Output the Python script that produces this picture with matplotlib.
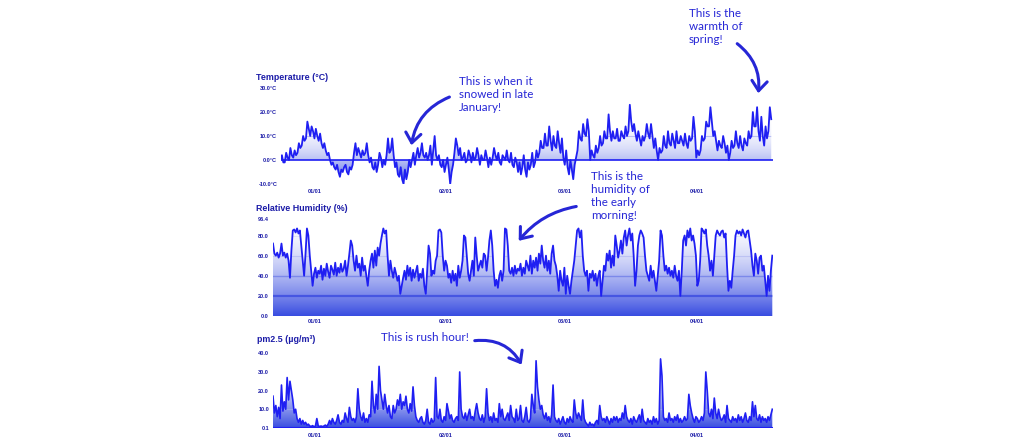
import numpy as np
import pandas as pd
import matplotlib
matplotlib.use("Agg")
import matplotlib.pyplot as plt
import matplotlib.dates as mdates
from matplotlib.path import Path
from matplotlib.patches import PathPatch, FancyArrowPatch
from matplotlib import font_manager

# ---------------- data (8-hourly samples) ----------------
temp_start = "2018-12-24 00:00"
hum_start = "2018-12-22 06:00"
x_end = "2019-04-19 02:00"
step = "8h"

temperature = [
    0, 2, -1, -1, 3, 1, 0, 5, 2, 1, 4, 2, 3, 7, 5, 6, 10, 8, 9, 16, 13, 10, 14, 12,
    9, 13, 10, 8, 11, 7, 5, 7, 4, 2, 3, 0, -2, -1, -3, -4, -2, -5, -7, -4, -5, -3, -2, -5, -6, -3, -4, -2, 3, 7,
    2, 5, 3, 1, 4, 2, 3, 7, 2, -1, 1, -3, -4, -1, -5, -2, 3, 1, -3, 0, -2, 2, 9, 3, 4, 9, 2, -3, -1, -6,
    -7, -3, -8, -10, -4, -8, -5, 0, -3, 0, 3, -2, 2, 5, 1, 3, 7, 2, 1, 3, 0, 2, 6, -2, 4, 10, 2, 0, 2, -2,
    -3, 0, -5, -2, 1, -4, -10, -5, -2, 3, 9, 6, 2, 5, 0, 1, 3, -1, 0, 4, 2, -1, 3, 0, 1, 5, 2, -2, 2, 0,
    0, 4, 1, -3, 1, -2, 1, 5, 2, 0, 3, -1, -2, 2, 1, 0, 4, 0, -1, 3, -2, -3, 1, -1, -5, -1, -6, -3, 2, -4,
    -7, -1, -4, -2, 3, -3, -1, 4, 1, 3, 8, 5, 5, 11, 6, 6, 14, 8, 4, 10, 6, 5, 12, 7, 3, 9, 1, -2, 4, -3,
    -6, 0, -4, -8, -2, 1, 4, 12, 9, 8, 15, 11, 10, 17, 12, 0, 4, 2, 1, 6, 3, 5, 10, 6, 7, 12, 9, 9, 19, 12,
    8, 12, 9, 9, 13, 8, 8, 12, 10, 9, 14, 10, 12, 23, 16, 12, 15, 11, 8, 12, 9, 6, 10, 8, 10, 15, 11, 9, 15, 10,
    5, 9, 4, 0, 5, 3, 4, 10, 6, 5, 12, 7, 6, 11, 8, 5, 12, 7, 7, 10, 8, 6, 11, 7, 5, 10, 8, 9, 18, 12,
    1, 4, 2, 4, 10, 8, 9, 16, 14, 14, 22, 16, 10, 12, 8, 4, 8, 6, 5, 10, 7, 3, 6, 0, 3, 8, 5, 6, 12, 7,
    5, 10, 6, 4, 9, 7, 6, 12, 9, 10, 20, 14, 14, 22, 12, 8, 18, 10, 6, 14, 9, 12, 22, 17,
]

humidity = [
    72, 62, 60, 63, 58, 62,
    72, 60, 63, 58, 62, 55, 38, 65, 85, 86, 83, 87, 82, 85, 70, 55, 40, 62, 87, 80, 60, 45, 30, 42,
    48, 38, 45, 42, 50, 36, 47, 40, 52, 44, 38, 50, 46, 41, 53, 40, 48, 43, 52, 44, 47, 55, 40, 50, 62, 75, 70, 55, 45, 60,
    48, 52, 40, 58, 45, 50, 40, 30, 45, 55, 62, 48, 65, 50, 68, 60, 72, 80, 87, 82, 85, 60, 40, 55, 45, 38, 48, 42, 35, 40,
    22, 30, 38, 45, 36, 50, 40, 48, 35, 46, 38, 44, 50, 35, 42, 38, 47, 30, 22, 45, 70, 62, 40, 45, 42, 55, 60, 85, 86, 83,
    60, 45, 55, 50, 38, 42, 33, 45, 35, 42, 30, 50, 38, 45, 55, 80, 78, 60, 42, 35, 45, 55, 40, 78, 60, 45, 50, 55, 48, 62,
    60, 45, 58, 75, 85, 70, 45, 30, 36, 28, 40, 45, 35, 45, 87, 86, 70, 45, 42, 48, 40, 50, 42, 47, 45, 52, 40, 48, 42, 55,
    50, 45, 60, 42, 55, 48, 58, 45, 62, 52, 70, 55, 48, 60, 45, 55, 42, 62, 70, 55, 50, 40, 25, 45, 35, 30, 48, 22, 40, 30,
    22, 35, 45, 55, 70, 85, 87, 78, 85, 60, 45, 40, 45, 25, 42, 38, 45, 35, 42, 30, 40, 45, 20, 35, 50, 45, 62, 55, 65, 48,
    60, 50, 80, 70, 58, 65, 75, 62, 78, 85, 70, 80, 87, 75, 82, 60, 30, 45, 70, 80, 85, 82, 78, 60, 45, 40, 35, 50, 38, 45,
    35, 25, 40, 55, 85, 80, 60, 45, 50, 42, 48, 40, 45, 38, 50, 40, 35, 45, 20, 45, 75, 80, 70, 85, 78, 87, 75, 80, 72, 60,
    30, 35, 55, 87, 85, 82, 86, 70, 60, 45, 55, 40, 60, 80, 85, 82, 80, 84, 85, 78, 82, 50, 25, 35, 28, 45, 60, 80, 85, 82,
    84, 80, 86, 82, 78, 84, 85, 75, 65, 50, 40, 62, 55, 42, 58, 60, 45, 50, 35, 20, 40, 25, 45, 60,
]

pm25 = [
    17, 8, 12, 6, 11, 5,
    23, 9, 14, 10, 27, 15, 25, 20, 15, 8, 10, 5, 3, 5, 2, 4, 2, 3, 1.5, 2, 1, 0.8, 1.2, 0.6,
    1, 5, 1, 0.8, 1, 0.7, 1, 1.5, 0.8, 2, 4, 2, 5, 3, 2, 4, 7, 3, 2, 4, 3, 8, 5, 3, 11, 6, 4, 5, 3, 6,
    21, 10, 6, 4, 8, 3, 5, 3, 7, 6, 25, 12, 8, 18, 10, 33, 20, 15, 10, 18, 12, 8, 12, 6, 5, 12, 8, 10, 15, 12,
    18, 10, 14, 12, 17, 10, 8, 13, 9, 22, 12, 6, 4, 3, 5, 6, 3, 2, 4, 10, 3, 2, 5, 3, 4, 27, 6, 5, 10, 4,
    3, 6, 4, 13, 9, 5, 7, 4, 3, 5, 6, 4, 30, 10, 6, 5, 8, 4, 7, 10, 5, 6, 4, 9, 13, 8, 5, 4, 7, 3,
    6, 21, 8, 4, 6, 3, 8, 4, 5, 3, 13, 6, 10, 5, 4, 6, 8, 4, 12, 6, 5, 3, 10, 4, 5, 12, 4, 3, 6, 11,
    4, 3, 5, 18, 12, 8, 36, 22, 15, 10, 12, 7, 5, 8, 4, 6, 3, 7, 23, 6, 4, 3, 5, 2, 4, 6, 3, 2, 5, 3,
    6, 4, 3, 15, 8, 5, 8, 6, 4, 15, 5, 3, 2, 1, 3, 1.5, 2, 1, 3, 4, 2, 12, 6, 4, 5, 3, 6, 4, 2, 5,
    3, 6, 4, 6, 3, 5, 4, 8, 5, 12, 6, 4, 3, 5, 2, 6, 4, 3, 5, 7, 3, 10, 4, 3, 2, 5, 3, 4, 2, 6,
    3, 5, 2, 4, 37, 28, 6, 4, 5, 3, 8, 4, 5, 3, 6, 4, 7, 3, 5, 3, 4, 6, 4, 5, 18, 12, 8, 5, 3, 6,
    5, 3, 4, 6, 4, 8, 30, 20, 8, 6, 10, 5, 16, 8, 5, 10, 6, 4, 5, 7, 3, 12, 5, 4, 3, 6, 4, 5, 3, 7,
    4, 6, 3, 5, 8, 4, 3, 6, 4, 14, 6, 12, 5, 4, 7, 3, 6, 4, 5, 3, 6, 4, 7, 10,
]

temp_ticks = [-10, 0, 10, 20, 30]
hum_ticks = [0, 20, 40, 60, 80, 96.4]
pm_ticks = [0.1, 10, 20, 30, 40]

titles = ["Temperature (°C)", "Relative Humidity (%)", "pm2.5 (µg/m³)"]
notes = [
    "This is when it\nsnowed in late\nJanuary!",
    "This is the\nwarmth of\nspring!",
    "This is the\nhumidity of\nthe early\nmorning!",
    "This is rush hour!",
]

# ---------------- style ----------------
W, H = 1035, 444
LINE = "#1f1ff2"
TXT = "#1c1ca8"
NOTE = "#2626d6"
BASE = np.array([0.22, 0.30, 0.88])

available = {f.name for f in font_manager.fontManager.ttflist}
def pick(*names):
    for n in names:
        if n in available:
            return n
    return "DejaVu Sans"

TITLE_FONT = pick("Liberation Sans Narrow", "Liberation Sans")
TICK_FONT = pick("Liberation Sans", "DejaVu Sans")
NOTE_FONT = pick("Lato", "Open Sans")

fig = plt.figure(figsize=(W / 100, H / 100), dpi=100)


def box(x0, x1, ytop, ybot):
    return [x0 / W, 1 - ybot / H, (x1 - x0) / W, (ybot - ytop) / H]


def series_x(start, n):
    idx = pd.date_range(start, periods=n, freq=step)
    return mdates.date2num(np.asarray(idx.to_pydatetime()))


def gradient_fill(ax, x, y, base, ymin, ymax, power, grids):
    verts = [(x[0], base)] + list(zip(x, y)) + [(x[-1], base), (x[0], base)]
    codes = [Path.MOVETO] + [Path.LINETO] * (len(verts) - 2) + [Path.CLOSEPOLY]
    patch = PathPatch(Path(verts, codes), facecolor="none", edgecolor="none",
                      transform=ax.transData)
    ax.add_patch(patch)
    t = np.linspace(0, 1, 300)
    f = (1 - t) ** power
    rgb = 1 - f[:, None] * (1 - BASE[None, :])
    img = np.repeat(rgb[:, None, :], 2, axis=1)
    im = ax.imshow(img, extent=[x[0], x[-1], ymin, ymax], origin="lower",
                   aspect="auto", interpolation="bilinear", zorder=1)
    im.set_clip_path(patch)
    for yv, col, lw in grids:
        ln = ax.axhline(yv, color=col, lw=lw, zorder=2)
        ln.set_clip_path(patch)


def style(ax, ticks, fmt, xpad, ypad):
    for s in ax.spines.values():
        s.set_visible(False)
    ax.set_yticks(ticks)
    ax.set_yticklabels([fmt(v) for v in ticks])
    ax.xaxis.set_major_locator(mdates.MonthLocator())
    ax.xaxis.set_major_formatter(mdates.DateFormatter("%m/%d"))
    ax.tick_params(axis="both", length=0, labelsize=4.0, labelcolor=TXT)
    ax.tick_params(axis="x", pad=xpad)
    ax.tick_params(axis="y", pad=ypad)
    for lab in ax.get_xticklabels() + ax.get_yticklabels():
        lab.set_fontfamily(TICK_FONT)
        lab.set_fontweight("bold")


xe = mdates.date2num(pd.Timestamp(x_end).to_pydatetime())

# ---- temperature ----
ax1 = fig.add_axes(box(280.5, 773, 88, 184))
xt = series_x(temp_start, len(temperature))
yt = np.array(temperature, dtype=float)
gradient_fill(ax1, xt, yt, 0, -10, 30, 3.6,
              [(10, "#b9bef2", 0.8), (20, "#d0d4f6", 0.7), (-5, "#7f8ae8", 0.7)])
ax1.plot(xt, yt, color=LINE, lw=1.3, zorder=3)
ax1.axhline(0, color=LINE, lw=1.2, zorder=3)
ax1.set_xlim(xt[0], xe)
ax1.set_ylim(-10, 30)
style(ax1, temp_ticks, lambda v: f"{v:.1f}°C", 3.4, 2.4)

# ---- humidity ----
ax2 = fig.add_axes(box(273, 773, 219, 316))
xh = series_x(hum_start, len(humidity))
yh = np.array(humidity, dtype=float)
gradient_fill(ax2, xh, yh, 0, 0, 96.4, 1.7,
              [(20, "#4656e2", 1.6), (40, "#7c89ea", 1.0), (60, "#bcc2f3", 0.8),
               (80, "#dde0f8", 0.6)])
ax2.plot(xh, yh, color=LINE, lw=1.3, zorder=3)
ax2.set_xlim(xh[0], xe)
ax2.set_ylim(0, 96.4)
style(ax2, hum_ticks, lambda v: f"{v:.1f}", 2.4, 2.9)

# ---- pm2.5 ----
ax3 = fig.add_axes(box(273, 773, 353.3, 427.7))
xp = series_x(hum_start, len(pm25))
yp = np.array(pm25, dtype=float)
gradient_fill(ax3, xp, yp, 0.1, 0.1, 40, 1.7,
              [(10, "#9aa4ee", 0.7), (20, "#c3c9f4", 0.6), (30, "#dde0f8", 0.6)])
ax3.plot(xp, yp, color=LINE, lw=1.2, zorder=3)
ax3.axhline(0.1, color=LINE, lw=1.5, zorder=3)
ax3.set_xlim(xp[0], xe)
ax3.set_ylim(0.1, 40)
style(ax3, pm_ticks, lambda v: f"{v:.1f}", 3.6, 2.9)

# ---- titles ----
for (tx, ty), title in zip([(256, 77), (256.5, 208.5), (257, 340)], titles):
    fig.text(tx / W, 1 - ty / H, title, ha="left", va="center", fontsize=6.4,
             fontweight="bold", color=TXT, family=TITLE_FONT)

# ---- annotations ----
for (tx, ty), note in zip([(459, 76), (689, 8), (591, 171), (381, 332)], notes):
    fig.text(tx / W, 1 - ty / H, note, ha="left", va="top", fontsize=8.4,
             color=NOTE, family=NOTE_FONT, linespacing=1.22)


def arrow(p0, p1, rad):
    a = FancyArrowPatch((p0[0] / W, 1 - p0[1] / H), (p1[0] / W, 1 - p1[1] / H),
                        transform=fig.transFigure, connectionstyle=f"arc3,rad={rad}",
                        arrowstyle="->,head_length=0.7,head_width=0.55",
                        mutation_scale=10, lw=2.2, color=NOTE, zorder=10)
    fig.add_artist(a)


arrow((452, 96), (411, 148), 0.3)
arrow((735, 42), (758, 96), -0.3)
arrow((579, 206), (517, 243), 0.2)
arrow((472, 341), (523, 367), -0.35)

fig.savefig("out.png", dpi=100)
